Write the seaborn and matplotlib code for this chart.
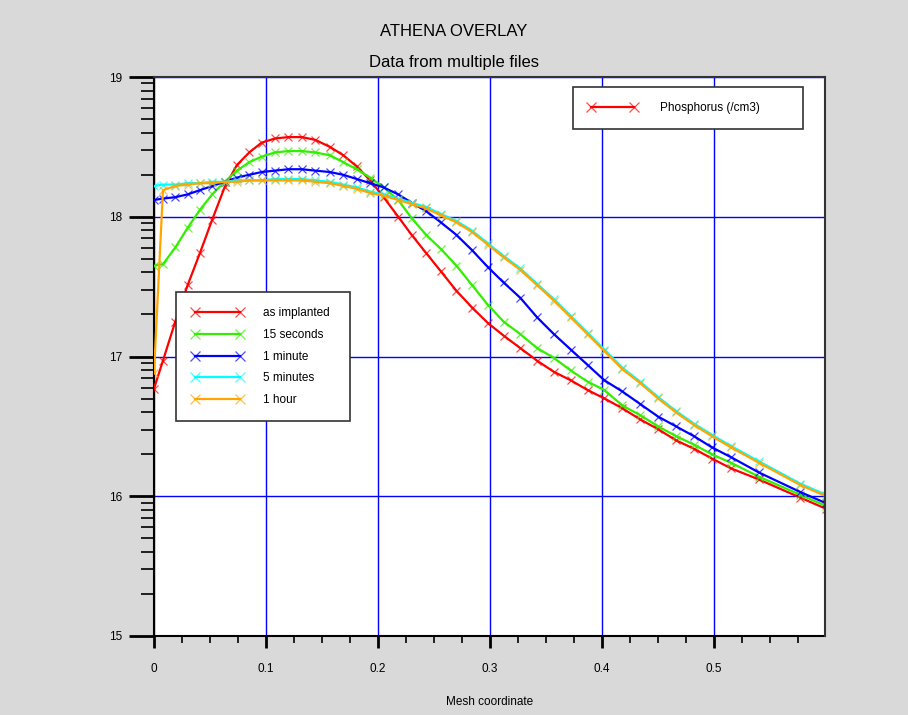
import matplotlib
matplotlib.use("Agg")
import matplotlib.pyplot as plt
import matplotlib.colors as mcolors
from matplotlib.lines import Line2D
import seaborn as sns
import numpy as np
import pandas as pd

# ========================================
# Data (log10 of concentration)
# ========================================
mesh = [0.000, 0.008, 0.019, 0.030, 0.041, 0.052, 0.063, 0.074, 0.085, 0.096,
        0.108, 0.120, 0.132, 0.144, 0.157, 0.169, 0.181, 0.193, 0.205, 0.218,
        0.230, 0.243, 0.256, 0.270, 0.284, 0.298, 0.312, 0.327, 0.342, 0.357,
        0.372, 0.387, 0.402, 0.418, 0.434, 0.450, 0.466, 0.482, 0.498, 0.515,
        0.540, 0.577, 0.600]

as_implanted = [16.77, 16.97, 17.25, 17.51, 17.74, 17.98, 18.21, 18.37, 18.46, 18.53,
                18.56, 18.57, 18.57, 18.55, 18.50, 18.44, 18.36, 18.26, 18.14, 18.00,
                17.87, 17.74, 17.61, 17.47, 17.35, 17.24, 17.15, 17.06, 16.97, 16.89,
                16.83, 16.76, 16.70, 16.63, 16.55, 16.48, 16.40, 16.34, 16.27, 16.20,
                16.12, 15.99, 15.91]

sec_15 = [17.65, 17.66, 17.78, 17.92, 18.05, 18.16, 18.25, 18.33, 18.39, 18.43,
          18.46, 18.47, 18.47, 18.46, 18.44, 18.39, 18.34, 18.28, 18.21, 18.12,
          17.99, 17.87, 17.77, 17.65, 17.51, 17.37, 17.25, 17.16, 17.06, 16.99,
          16.90, 16.82, 16.76, 16.65, 16.58, 16.50, 16.43, 16.37, 16.30, 16.24,
          16.14, 16.01, 15.93]

min_1 = [18.12, 18.13, 18.14, 18.16, 18.19, 18.22, 18.25, 18.28, 18.30, 18.32,
         18.33, 18.34, 18.34, 18.33, 18.32, 18.30, 18.27, 18.24, 18.21, 18.16,
         18.10, 18.04, 17.96, 17.87, 17.76, 17.64, 17.53, 17.42, 17.28, 17.16,
         17.05, 16.94, 16.83, 16.75, 16.66, 16.57, 16.50, 16.43, 16.35, 16.28,
         16.17, 16.03, 15.95]

min_5 = [18.22, 18.23, 18.23, 18.24, 18.24, 18.25, 18.25, 18.26, 18.26, 18.26,
         18.27, 18.27, 18.27, 18.26, 18.25, 18.23, 18.21, 18.18, 18.16, 18.13,
         18.10, 18.07, 18.02, 17.97, 17.90, 17.81, 17.72, 17.63, 17.52, 17.41,
         17.29, 17.17, 17.05, 16.92, 16.82, 16.71, 16.61, 16.52, 16.44, 16.36,
         16.25, 16.09, 16.01]

hour_1 = [16.88, 18.19, 18.22, 18.23, 18.24, 18.24, 18.25, 18.25, 18.26, 18.26,
          18.26, 18.26, 18.26, 18.25, 18.24, 18.22, 18.20, 18.17, 18.15, 18.12,
          18.09, 18.06, 18.01, 17.96, 17.89, 17.80, 17.71, 17.62, 17.51, 17.40,
          17.28, 17.16, 17.04, 16.91, 16.81, 16.70, 16.60, 16.51, 16.43, 16.35,
          16.24, 16.08, 16.00]

labels = ['as implanted', '15 seconds', '1 minute', '5 minutes', '1 hour']
colors = ['#ff0000', '#33ee00', '#0000ff', '#00ffff', '#ffa500']
series = [as_implanted, sec_15, min_1, min_5, hour_1]

x_major = [0, 0.1, 0.2, 0.3, 0.4, 0.5]
x_labels = ['0', '0.1', '0.2', '0.3', '0.4', '0.5']
y_major = [15, 16, 17, 18, 19]
y_labels = ['15', '16', '17', '18', '19']

# ========================================
# Plot
# ========================================
plt.rcParams['font.family'] = ['Liberation Sans', 'DejaVu Sans']

W, H = 908, 715
fig = plt.figure(figsize=(W / 100, H / 100), dpi=100)
fig.patch.set_facecolor('#d9d9d9')

# axes box in pixels: left 154, right 825, top 77, bottom 636
ax = fig.add_axes([154 / W, 1 - 636 / H, (825 - 154) / W, (636 - 77) / H])
ax.set_facecolor('white')

df = pd.DataFrame({'mesh': mesh})
for lab, vals in zip(labels, series):
    df[lab] = vals

handles = []
for lab, col in zip(labels, colors):
    mec = mcolors.to_rgba(col, 0.7)
    sns.lineplot(data=df, x='mesh', y=lab, ax=ax, color=col, linewidth=1.6,
                 marker='x', markersize=6, markeredgewidth=0.9, markeredgecolor=mec,
                 legend=False, zorder=3)
    handles.append(Line2D([], [], color=col, linewidth=1.6, marker='x', markersize=7,
                          markeredgewidth=0.9, markeredgecolor=mec))

ax.set_xlim(0, 0.599)
ax.set_ylim(15, 19)

ax.set_xticks(x_major)
ax.set_xticklabels(x_labels)
ax.set_xticks(np.arange(0, 0.6, 0.025), minor=True)
ax.set_yticks(y_major)
ax.set_yticklabels(y_labels)
y_minor = [n + np.log10(k) for n in range(15, 19) for k in range(2, 10)]
ax.set_yticks(y_minor, minor=True)

ax.tick_params(axis='y', which='major', direction='out', length=18, width=2, pad=5,
               labelsize=8.5, colors='black')
ax.tick_params(axis='y', which='minor', direction='out', length=9.5, width=1.2)
ax.tick_params(axis='x', which='major', direction='out', length=8.5, width=2, pad=11,
               labelsize=8.5)
ax.tick_params(axis='x', which='minor', direction='out', length=5, width=1.2)

ax.grid(True, which='major', color='#0000ff', linewidth=1)
ax.set_axisbelow(True)

for side in ['left', 'bottom']:
    ax.spines[side].set_color('black')
    ax.spines[side].set_linewidth(1.5)
for side in ['top', 'right']:
    ax.spines[side].set_color('#333333')
    ax.spines[side].set_linewidth(1.5)
    ax.spines[side].set_zorder(5)

ax.set_ylabel('')
ax.set_xlabel('Mesh coordinate', fontsize=8.5)
ax.xaxis.set_label_coords(0.5, -(702 - 636) / (636 - 77))
ax.xaxis.label.set_va('center')

fig.text(0.5, 1 - 31 / H, 'ATHENA OVERLAY', ha='center', va='center', fontsize=12)
fig.text(0.5, 1 - 62 / H, 'Data from multiple files', ha='center', va='center', fontsize=12)

# Legend: quantity
phos = Line2D([], [], color='#ff0000', linewidth=1.6, marker='x', markersize=7,
              markeredgewidth=0.9, markeredgecolor=mcolors.to_rgba('#ff0000', 0.7))
leg1 = ax.legend([phos], ['Phosphorus (/cm3)'], loc='upper left',
                 bbox_to_anchor=(573 / W, 1 - 130 / H, 230 / W, 43 / H),
                 bbox_transform=fig.transFigure, mode='expand', borderaxespad=0,
                 numpoints=2, handlelength=4.2, handletextpad=1.9, borderpad=1.25,
                 fontsize=8.5, fancybox=False, framealpha=1, edgecolor='#333333')
leg1.get_frame().set_linewidth(1.2)
ax.add_artist(leg1)

# Legend: files
leg2 = ax.legend(handles, labels, loc='upper left',
                 bbox_to_anchor=(176 / W, 1 - 420 / H, 174 / W, 128 / H),
                 bbox_transform=fig.transFigure, mode='expand', borderaxespad=0,
                 numpoints=2, handlelength=4.4, handletextpad=1.7, borderpad=1.3,
                 labelspacing=0.82, fontsize=8.5, fancybox=False, framealpha=1,
                 edgecolor='#333333')
leg2.get_frame().set_linewidth(1.2)

fig.savefig('out.png', dpi=100, facecolor=fig.get_facecolor())
